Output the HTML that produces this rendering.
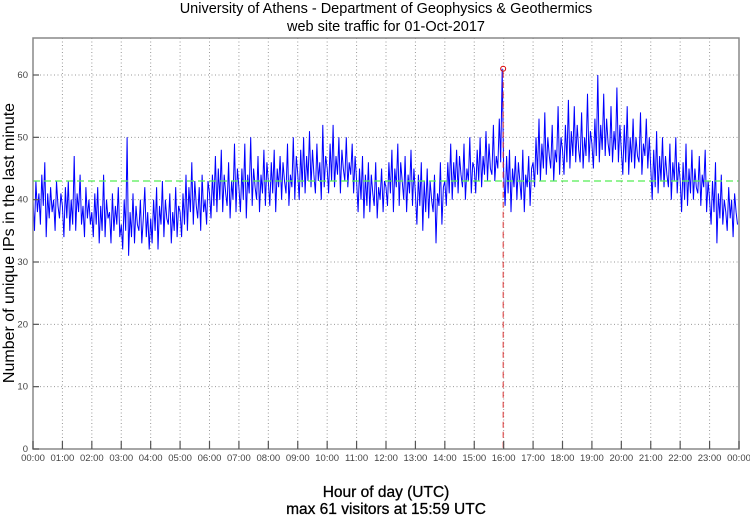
<!DOCTYPE html>
<html><head><meta charset="utf-8"><style>
html,body{margin:0;padding:0;background:#fff;width:750px;height:515px;overflow:hidden}
svg{display:block;font-family:"Liberation Sans","DejaVu Sans",sans-serif}
</style></head><body>
<svg id="chart" width="750" height="515" viewBox="0 0 750 515">
<text x="386" y="13" font-size="14.5" text-anchor="middle" fill="#000">University of Athens - Department of Geophysics &amp; Geothermics</text>
<text x="386" y="31" font-size="14.5" text-anchor="middle" fill="#000">web site traffic for 01-Oct-2017</text>
<text x="386" y="497" font-size="15.5" text-anchor="middle" fill="#000" stroke="#000" stroke-width="0.3">Hour of day (UTC)</text>
<text x="386" y="514" font-size="15.5" text-anchor="middle" fill="#000" stroke="#000" stroke-width="0.3">max 61 visitors at 15:59 UTC</text>
<text transform="translate(14,243) rotate(-90)" font-size="16" text-anchor="middle" fill="#000">Number of unique IPs in the last minute</text>
<g id="grid"></g>
<g id="marks"></g>
<rect x="33" y="38" width="706" height="411" fill="none" stroke="#888" stroke-width="1.5"/>
<g id="axes"></g>
</svg>
<script>
const yTicks=[0,10,20,30,40,50,60];
const xTickLabels=["00:00","01:00","02:00","03:00","04:00","05:00","06:00","07:00","08:00","09:00","10:00","11:00","12:00","13:00","14:00","15:00","16:00","17:00","18:00","19:00","20:00","21:00","22:00","23:00","00:00"];
const meanValue=43;
const maxValue=61;
const maxHour=15.983;
const visitors=[
40,35,43,38,41,36,44,39,46,34,41,37,42,38,40,35,43,39,37,41,
39,34,42,37,43,35,40,36,47,35,41,38,44,36,39,34,42,37,40,36,
38,34,41,36,42,33,39,35,44,34,40,37,38,33,41,35,39,36,42,34,
36,32,40,35,50,31,38,34,41,33,39,36,35,40,33,37,42,34,38,32,
37,33,40,35,42,32,39,36,43,34,40,37,36,41,33,38,35,42,34,39,
38,34,41,36,44,35,42,38,46,36,43,39,37,42,35,44,38,40,36,43,
41,37,44,39,47,38,45,40,48,38,44,41,39,46,37,43,40,49,38,45,
42,38,45,40,49,37,44,41,50,39,45,42,40,47,38,44,41,48,39,46,
43,39,46,41,48,38,45,42,47,40,46,43,41,49,39,44,42,50,40,47,
44,40,48,42,50,41,47,43,51,42,48,44,41,49,43,46,40,52,42,47,
45,41,49,43,52,42,47,44,50,41,48,45,43,50,42,46,44,49,41,47,
43,38,45,40,47,37,44,39,46,38,44,41,39,46,37,42,40,45,38,43,
42,39,46,41,48,38,45,42,49,39,46,43,40,47,38,44,41,48,39,45,
41,36,44,39,46,35,43,38,45,37,43,40,38,44,33,41,39,46,36,42,
43,39,46,41,49,40,46,42,48,41,47,44,42,49,40,45,43,50,41,46,
45,41,48,43,50,42,47,44,51,43,49,45,44,52,43,47,45,53,46,61,
44,39,47,41,48,38,45,42,47,40,46,43,40,48,38,44,42,47,39,45,
46,42,50,44,53,43,49,45,54,44,50,47,45,52,43,48,46,55,44,50,
48,44,52,46,56,45,51,47,55,46,52,48,46,54,45,50,47,57,46,51,
49,45,53,47,60,46,52,48,57,47,53,49,47,55,46,51,48,58,46,52,
48,44,52,46,55,44,50,46,53,45,50,47,46,54,44,49,47,53,45,50,
45,40,48,42,51,41,47,43,50,42,47,44,42,49,40,46,43,50,41,46,
43,38,46,40,49,39,45,41,48,40,45,42,41,47,39,44,42,48,38,43,
40,36,43,38,46,33,41,37,44,36,40,38,35,42,37,40,34,41,38,36
];
const X0=33,X1=739,Y0=449,YTOP=38;
const xs=h=>X0+(X1-X0)*h/24;
const ys=v=>Y0-v*(449-75)/60;
const NS="http://www.w3.org/2000/svg";
function mk(tag,attrs,parent){const e=document.createElementNS(NS,tag);for(const k in attrs)e.setAttribute(k,attrs[k]);parent.appendChild(e);return e;}
const grid=document.getElementById('grid'),axes=document.getElementById('axes'),marks=document.getElementById('marks');
yTicks.forEach(v=>{
  const y=ys(v);
  if(v>0){const g=mk('line',{x1:X0,x2:X1,y1:y,y2:y,stroke:'#999','stroke-dasharray':'1,2.5','stroke-width':1},grid);
  
  }
  const t=mk('line',{x1:X0,x2:X0+6,y1:y,y2:y,stroke:'#555','stroke-width':1.2},axes);
  
  
  const l=mk('text',{x:X0-5,y:y+3,'font-size':9.5,'text-anchor':'end',fill:'#444'},axes);
  l.textContent=v;
  
  
});
xTickLabels.forEach((lab,i)=>{
  const x=xs(i);
  if(i>0&&i<24){const g=mk('line',{x1:x,x2:x,y1:YTOP,y2:Y0,stroke:'#999','stroke-dasharray':'1,2.5','stroke-width':1},grid);
  
  }
  const t=mk('line',{x1:x,x2:x,y1:Y0,y2:Y0-8,stroke:'#555','stroke-width':1.2},axes);
  
  
  const l=mk('text',{x:x,y:461,'font-size':9.5,'text-anchor':'middle',fill:'#444'},axes);
  l.textContent=lab;
  
  
});
const n=visitors.length;
const pts=visitors.map((v,i)=>xs(i*24/n).toFixed(1)+','+ys(v).toFixed(1)).join(' ');
const line=mk('polyline',{points:pts,fill:'none',stroke:'#0000ff','stroke-width':1,'stroke-linejoin':'miter'},marks);


const mean=mk('line',{x1:X0,x2:X1,y1:ys(meanValue),y2:ys(meanValue),stroke:'#55ee55','stroke-dasharray':'7,4','stroke-width':1.2},marks);


const vl=mk('line',{x1:xs(maxHour),x2:xs(maxHour),y1:ys(maxValue)+3,y2:Y0,stroke:'#dd3333','stroke-dasharray':'6,4','stroke-width':1},marks);


const c=mk('circle',{cx:xs(maxHour),cy:ys(maxValue),r:2.5,fill:'none',stroke:'#dd0000','stroke-width':1},marks);


</script>
</body></html>
